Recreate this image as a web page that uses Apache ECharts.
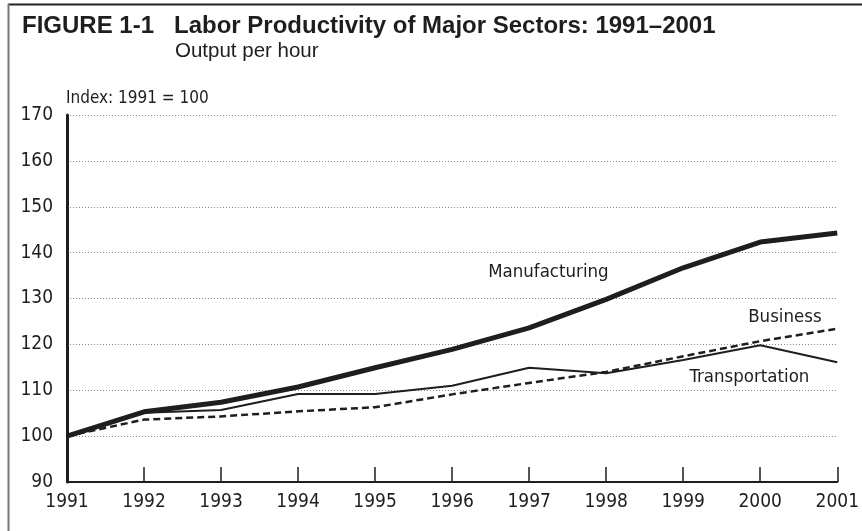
<!DOCTYPE html>
<html>
<head>
<meta charset="utf-8">
<script src="https://cdn.jsdelivr.net/npm/echarts@6/dist/echarts.min.js"></script>
<style>
html,body{margin:0;padding:0;background:#fff;}
#chart{width:862px;height:531px;}
</style>
</head>
<body>
<div id="chart"></div>
<script>
// Data
var years = [1991, 1992, 1993, 1994, 1995, 1996, 1997, 1998, 1999, 2000, 2001];
var manufacturing = [100, 105.3, 107.4, 110.7, 114.9, 118.9, 123.6, 129.8, 136.7, 142.3, 144.3];
var transportation = [100, 105.1, 105.7, 109.2, 109.2, 111.0, 114.9, 113.7, 116.6, 119.8, 116.1];
var business = [100, 103.6, 104.3, 105.4, 106.3, 109.1, 111.6, 114.0, 117.4, 120.7, 123.4];
var yTicks = [90, 100, 110, 120, 130, 140, 150, 160, 170];
var titleText = 'FIGURE 1-1   Labor Productivity of Major Sectors: 1991\u20132001';
var subtitleText = 'Output per hour';
var unitText = 'Index: 1991 = 100';
var seriesLabels = [
  {name: 'Manufacturing', at: [1997.25, 135.8]},
  {name: 'Business', at: [2000.32, 125.9]},
  {name: 'Transportation', at: [1999.86, 112.9]}
];

function pairs(vals) { return years.map(function (y, i) { return [y, vals[i]]; }); }

var narrow = '"DejaVu Sans Condensed", "Liberation Sans Narrow", sans-serif';
var ink = '#1e1e1e';

function labelPoint(idx) {
  var l = seriesLabels[idx];
  return {
    symbol: 'circle', symbolSize: 0, silent: true,
    label: {show: true, position: 'inside', formatter: l.name, color: ink,
            fontFamily: narrow, fontSize: 18.5},
    data: [{coord: l.at}]
  };
}

var chart = echarts.init(document.getElementById('chart'), null, {renderer: 'canvas'});
chart.setOption({
  animation: false,
  backgroundColor: '#fff',
  title: [
    {text: titleText, left: 17, top: 9,
     textStyle: {fontFamily: '"Liberation Sans", Arial, sans-serif', fontWeight: 'bold', fontSize: 24, color: ink}},
    {text: subtitleText, left: 170, top: 36,
     textStyle: {fontFamily: '"Liberation Sans", Arial, sans-serif', fontWeight: 'normal', fontSize: 20.5, color: ink}},
    {text: unitText, left: 61, top: 85,
     textStyle: {fontFamily: narrow, fontWeight: 'normal', fontSize: 17, color: ink}}
  ],
  graphic: [
    {type: 'line', shape: {x1: 8, y1: 4.5, x2: 862, y2: 4.5}, style: {stroke: '#222', lineWidth: 2}},
    {type: 'line', shape: {x1: 8.5, y1: 4, x2: 8.5, y2: 531}, style: {stroke: '#777', lineWidth: 2}}
  ],
  grid: {left: 67, right: 24, top: 115, bottom: 49, containLabel: false},
  xAxis: {
    type: 'value', min: 1991, max: 2001, interval: 1,
    axisLine: {show: true, lineStyle: {color: ink, width: 2}},
    axisTick: {show: true, inside: true, length: 15, lineStyle: {color: ink, width: 1.5}},
    axisLabel: {color: ink, fontFamily: narrow, fontSize: 19, margin: 11,
                formatter: function (v) { return String(v); }},
    splitLine: {show: false}
  },
  yAxis: {
    type: 'value', min: yTicks[0], max: yTicks[yTicks.length - 1], interval: 10,
    axisLine: {show: true, lineStyle: {color: ink, width: 3}},
    axisTick: {show: false},
    axisLabel: {color: ink, fontFamily: narrow, fontSize: 19, margin: 14},
    splitLine: {show: true, lineStyle: {color: '#888', width: 1, type: [1, 2]}}
  },
  series: [
    {name: 'Business', type: 'line', data: pairs(business), symbol: 'none',
     lineStyle: {color: ink, width: 2.5, type: [7, 4]}, markPoint: labelPoint(1), z: 3},
    {name: 'Transportation', type: 'line', data: pairs(transportation), symbol: 'none',
     lineStyle: {color: ink, width: 2}, markPoint: labelPoint(2), z: 4},
    {name: 'Manufacturing', type: 'line', data: pairs(manufacturing), symbol: 'none',
     lineStyle: {color: ink, width: 5}, markPoint: labelPoint(0), z: 5}
  ]
});
</script>
</body>
</html>
